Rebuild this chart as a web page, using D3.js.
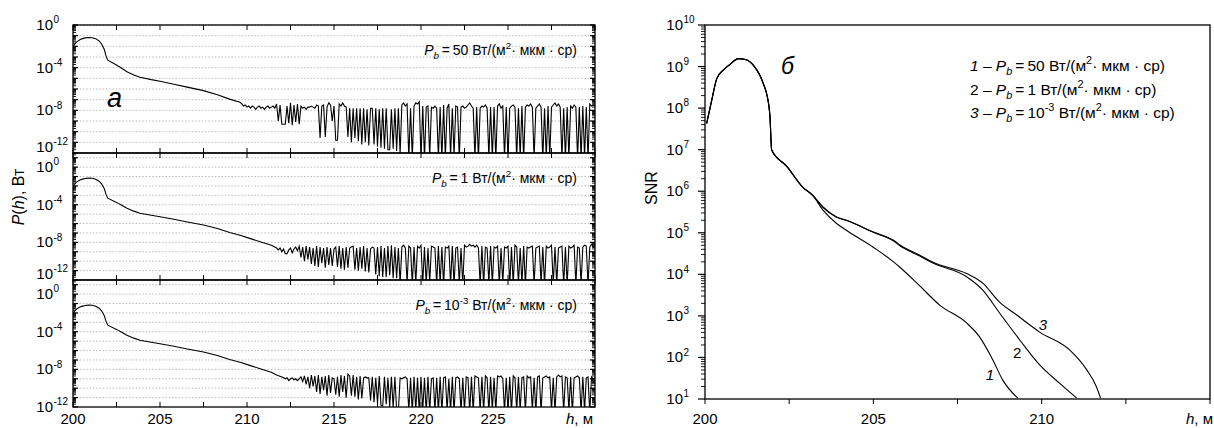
<!DOCTYPE html>
<html><head><meta charset="utf-8">
<script src="https://cdn.jsdelivr.net/npm/d3@7"></script>
<style>body{margin:0;background:#fff} text{font-family:"Liberation Sans",Arial,Helvetica,sans-serif;fill:#000}</style>
</head><body><svg id="c" width="1214" height="428"></svg>
<script>
// ---------------- DATA ----------------
// Left panel (a): log10 P(h), W. Common smooth signal part (h, log10 P)
const signalH =    [200.0,200.1,200.2,200.35,200.5,200.7,200.9,201.1,201.3,201.5,201.65,201.8,201.9,202.0,202.5,202.8,203.1,203.5,203.85,204.5,205.0,205.8,206.5,207.5,208.3,209.0,209.6,210.2,210.8,211.4,211.7,212.0];
const signalLogP = [-2.0,-1.8,-1.6,-1.42,-1.3,-1.21,-1.17,-1.19,-1.28,-1.5,-1.8,-2.3,-2.9,-3.3,-3.75,-4.05,-4.38,-4.68,-4.9,-5.12,-5.27,-5.55,-5.8,-6.15,-6.53,-6.95,-7.25,-7.6,-7.95,-8.3,-8.6,-8.8];
// noisy tails, sampled every 0.1 m from the start height
const noiseStep = 0.1;
const topNoiseStart = 209.7;
const topNoiseLogP = [
-7.4,-7.6,-7.5,-7.7,-7.6,-7.8,-7.6,-7.7,-7.9,-7.7,
-7.6,-7.8,-7.7,-7.9,-7.7,-7.6,-7.8,-7.7,-7.6,-7.8,
-7.4,-9.0,-7.5,-9.3,-9.3,-9.3,-7.6,-9.2,-7.3,-9.4,
-7.5,-9.1,-7.4,-9.3,-7.6,-7.8,-7.7,-7.9,-7.7,-7.7,
-7.6,-7.7,-7.8,-7.5,-7.6,-10.6,-7.6,-7.5,-10.5,-7.7,
-7.3,-7.5,-9.0,-7.6,-10.8,-10.8,-7.4,-7.6,-7.3,-7.6,
-7.7,-10.5,-7.8,-11.0,-7.8,-10.6,-7.8,-10.9,-7.8,-11.2,
-7.8,-11.0,-7.9,-11.3,-7.8,-7.8,-11.2,-7.8,-11.4,-7.9,
-11.5,-7.8,-11.6,-7.8,-11.7,-11.7,-7.9,-11.6,-7.8,-11.8,
-7.8,-12.1,-7.5,-7.3,-7.6,-7.4,-12.5,-7.8,-12.5,-7.6,
-7.3,-7.4,-7.2,-12.5,-7.6,-12.6,-7.7,-7.6,-12.4,-7.7,
-7.8,-7.6,-7.8,-12.5,-7.7,-12.6,-7.5,-12.5,-7.8,-7.4,
-12.4,-7.8,-12.3,-7.6,-7.7,-12.6,-7.7,-7.6,-7.8,-7.7,
-7.5,-7.3,-7.6,-7.8,-12.5,-7.7,-12.6,-7.8,-7.6,-7.7,
-7.5,-7.8,-12.4,-7.7,-12.5,-7.7,-12.6,-7.6,-7.4,-7.8,
-7.6,-12.5,-7.7,-12.6,-7.8,-7.6,-7.5,-7.7,-12.5,-7.8,
-12.4,-7.6,-12.6,-7.7,-7.5,-7.6,-7.4,-7.7,-12.5,-7.8,
-7.6,-7.4,-7.7,-12.6,-7.8,-12.5,-7.6,-12.4,-7.7,-7.5,
-7.3,-7.6,-7.4,-7.7,-12.5,-7.8,-12.6,-7.7,-12.5,-7.6,
-7.8,-7.5,-7.7,-12.6,-7.7,-12.5,-7.6,-12.4,-7.7,-12.6,
-7.4,-7.6,-7.5,-7.6];
const midNoiseStart = 211.8;
const midNoiseLogP = [
-8.8,-8.6,-9.0,-8.7,-9.2,-9.2,-8.8,-8.6,-9.1,-8.7,
-8.5,-8.9,-8.4,-9.6,-8.5,-10.0,-8.4,-9.8,-8.5,-10.3,
-8.6,-10.5,-8.4,-10.6,-8.5,-10.2,-8.6,-10.7,-8.5,-10.4,
-8.6,-10.5,-8.7,-8.5,-10.6,-8.4,-10.8,-8.6,-10.9,-8.5,
-10.7,-8.6,-8.5,-8.4,-10.9,-8.6,-11.0,-8.5,-10.8,-8.4,
-11.1,-8.6,-11.2,-8.7,-8.5,-8.6,-11.4,-8.5,-11.6,-8.4,
-11.7,-8.6,-11.7,-8.4,-11.5,-8.3,-11.8,-8.5,-11.8,-8.6,
-12.4,-8.5,-8.3,-8.6,-12.3,-8.4,-8.6,-12.5,-8.5,-12.4,
-8.4,-8.6,-8.3,-12.4,-8.5,-12.5,-8.6,-12.3,-8.4,-8.5,
-8.6,-12.5,-8.4,-12.4,-8.5,-12.6,-8.5,-8.6,-8.4,-12.5,
-8.4,-12.6,-8.6,-8.5,-12.4,-8.6,-12.5,-8.3,-8.5,-8.4,
-8.2,-8.4,-8.3,-8.5,-8.3,-8.6,-12.5,-8.4,-12.6,-8.5,
-8.6,-12.4,-8.4,-12.5,-8.5,-8.6,-8.4,-12.5,-8.6,-12.4,
-8.5,-8.6,-8.4,-12.6,-8.5,-12.5,-8.3,-8.5,-12.4,-8.6,
-12.5,-8.4,-12.6,-8.5,-8.6,-8.5,-8.4,-12.5,-8.6,-8.5,
-8.4,-12.4,-8.5,-12.6,-8.4,-8.6,-8.5,-8.3,-12.5,-8.5,
-12.4,-8.6,-8.5,-8.4,-12.6,-8.5,-12.5,-8.4,-8.6,-8.5,
-8.3,-12.5,-8.5,-8.6,-12.4,-8.5,-8.3,-8.4,-12.6,-8.5,
-8.2,-8.5,-8.4];
const botNoiseStart = 212.1;
const botNoiseLogP = [
-8.9,-9.0,-8.9,-9.2,-9.0,-8.9,-9.1,-9.0,-9.2,-9.0,
-8.8,-9.3,-8.7,-9.6,-8.8,-10.0,-8.6,-9.8,-8.7,-10.4,
-8.6,-10.6,-8.8,-10.2,-8.7,-10.8,-8.6,-10.5,-8.9,-9.0,
-10.7,-8.8,-10.9,-8.6,-10.4,-8.7,-11.0,-8.5,-8.7,-10.8,
-8.6,-10.9,-8.8,-11.2,-8.7,-11.1,-8.9,-8.8,-8.9,-8.9,
-11.3,-8.8,-11.5,-8.9,-11.6,-8.7,-11.8,-11.9,-8.8,-11.7,
-8.9,-12.0,-8.8,-12.1,-8.8,-12.4,-12.4,-8.9,-9.0,-8.9,
-8.8,-9.0,-12.4,-8.9,-12.5,-8.8,-12.4,-8.9,-12.5,-8.8,
-12.4,-8.9,-12.6,-8.8,-12.5,-9.0,-8.9,-12.4,-8.9,-12.5,
-8.8,-12.6,-8.9,-8.8,-12.4,-9.0,-12.5,-8.8,-12.6,-8.9,
-8.8,-9.0,-12.5,-8.9,-12.4,-8.8,-8.9,-12.6,-8.8,-12.5,
-8.7,-8.8,-8.9,-12.4,-8.8,-12.5,-8.7,-8.9,-12.6,-8.8,
-12.4,-8.9,-12.5,-8.7,-8.8,-8.7,-9.0,-12.5,-8.9,-12.4,
-8.8,-12.6,-8.7,-8.9,-12.5,-8.8,-12.4,-8.9,-8.8,-12.5,
-8.7,-8.9,-8.8,-12.4,-8.9,-12.6,-8.8,-8.7,-12.5,-8.9,
-8.8,-8.7,-8.9,-8.8,-12.4,-8.9,-12.5,-8.8,-8.6,-8.8,
-8.7,-12.5,-8.8,-8.9,-12.4,-8.8,-12.6,-8.9,-8.8,-8.7,
-8.9,-12.5,-8.8,-12.4,-8.9,-8.8,-12.6,-8.8,-9.0,-8.9];
const panelPb = ["50", "1", "10^-3"];          // background radiance values
const leftXTicks = [200, 205, 210, 215, 220, 225];
const leftYLabelExp = [0, -4, -8, -12];

// Right panel (б): log10 SNR
const snr1H =   [200.05,200.2,200.35,200.55,200.74,200.99,201.2,201.44,201.63,201.75,201.83,201.93,201.98,202.43,202.9,203.2,203.5,203.9,204.2,205.0,205.6,205.79,206.38,206.97,207.77,208.16,208.55,208.84,209.29];
const snr1Log = [7.63,8.19,8.71,8.92,9.05,9.19,9.17,9.03,8.79,8.55,8.35,7.79,6.99,6.6,6.1,5.9,5.55,5.23,5.06,4.65,4.3,4.17,3.72,3.26,2.83,2.49,1.94,1.46,1.02];
const snr2H =   [200.05,200.2,200.35,200.55,200.74,200.99,201.2,201.44,201.63,201.75,201.83,201.93,201.98,202.43,202.9,203.2,203.5,203.9,204.2,205.0,205.6,205.8,206.38,206.77,207.77,208.25,208.75,209.35,209.94,210.53,211.04];
const snr2Log = [7.63,8.19,8.71,8.92,9.05,9.19,9.17,9.03,8.79,8.55,8.35,7.79,6.99,6.6,6.1,5.9,5.62,5.38,5.3,5.01,4.8,4.68,4.44,4.27,3.94,3.62,3.07,2.42,1.82,1.38,1.02];
const snr3H =   [200.05,200.2,200.35,200.55,200.74,200.99,201.2,201.44,201.63,201.75,201.83,201.93,201.98,202.43,202.9,203.2,203.5,203.9,204.2,205.0,205.6,205.8,206.38,206.77,207.77,208.25,208.75,209.26,209.94,210.83,211.34,211.63,211.75];
const snr3Log = [7.63,8.19,8.71,8.92,9.05,9.19,9.17,9.03,8.79,8.55,8.35,7.79,6.99,6.6,6.1,5.9,5.62,5.38,5.3,5.02,4.82,4.7,4.46,4.29,4.02,3.79,3.33,3.02,2.61,2.18,1.70,1.29,1.02];
const curveLabels = ["1", "2", "3"];
const curveLabelH = [208.46, 209.27, 210.04];
const curveLabelLog = [1.46, 1.99, 2.66];
const rightXTicks = [200, 205, 210];
const rightYLabelExp = [1,2,3,4,5,6,7,8,9,10];

// ---------------- DRAWING ----------------
const svg = d3.select("#c");
const TICKFS = 15, SUPFS = 10;

function rich(textSel, parts, fs) {
  let cur = 0;
  parts.forEach(p => {
    let shift = 0, size = fs;
    if (p.sup) { shift = -fs * 0.42; size = fs * 0.7; }
    if (p.sub) { shift = fs * 0.28; size = fs * 0.7; }
    const ts = textSel.append("tspan").text(p.t).attr("font-size", size).attr("dy", shift - cur);
    if (p.i) ts.attr("font-style", "italic");
    cur = shift;
  });
}
function pbParts(v) {
  const parts = [{t:"P", i:true}, {t:"b", i:true, sub:true}, {t:"\u2009=\u2009"}];
  if (v.indexOf("^") >= 0) {
    const [b, e] = v.split("^");
    parts.push({t:b}); parts.push({t:e, sup:true}); parts.push({t:" Вт/(м"});
  } else parts.push({t: v + " Вт/(м"});
  parts.push({t:"2", sup:true}); parts.push({t:"·\u00a0мкм\u00a0·\u00a0ср)"});
  return parts;
}
function powLabel(g, x, y, exp, fs, sfs) {
  g.append("text").attr("x", x).attr("y", y).attr("text-anchor", "end").attr("font-size", fs).text("10");
  g.append("text").attr("x", x + 0.5).attr("y", y - fs * 0.45).attr("font-size", sfs).text(String(exp));
}
function minorTicks(lo, hi) {
  const out = [];
  for (let d = Math.floor(lo); d < Math.ceil(hi); d++)
    for (let k = 2; k <= 9; k++) { const v = Math.log10(k) + d; if (v > lo && v < hi) out.push(Math.pow(10, v)); }
  return out;
}
function decades(lo, hi) { const out = []; for (let d = Math.ceil(lo); d <= Math.floor(hi); d++) out.push(Math.pow(10, d)); return out; }

// ---- left panel ----
const xL = d3.scaleLinear().domain([200, 230]).range([73, 595]);
const panels = [
  {top: 25, bottom: 153, lo: -12, hi: 0, start: topNoiseStart, noise: topNoiseLogP, pb: panelPb[0]},
  {top: 153, bottom: 280, lo: -12, hi: 1.5, start: midNoiseStart, noise: midNoiseLogP, pb: panelPb[1]},
  {top: 280, bottom: 407, lo: -12, hi: 1.5, start: botNoiseStart, noise: botNoiseLogP, pb: panelPb[2]}
];
const left = svg.append("g");
panels.forEach((p, pi) => {
  const y = d3.scaleLog().domain([Math.pow(10, p.lo), Math.pow(10, p.hi)]).range([p.bottom, p.top]);
  const g = left.append("g");
  g.selectAll("line.grid").data(decades(p.lo + 1, p.hi)).join("line")
    .attr("x1", xL(200)).attr("x2", xL(230)).attr("y1", d => y(d)).attr("y2", d => y(d))
    .attr("stroke", "#a8a8a8").attr("stroke-width", 0.8).attr("stroke-dasharray", "1.5,1.8");
  const pts = [];
  signalH.forEach((h, i) => { if (h < p.start - 1e-6) pts.push([h, signalLogP[i]]); });
  p.noise.forEach((v, i) => pts.push([Math.round((p.start + i * noiseStep) * 10) / 10, v]));
  const cid = "clipL" + pi;
  svg.append("clipPath").attr("id", cid).append("rect")
    .attr("x", xL(200)).attr("y", p.top).attr("width", xL(230) - xL(200)).attr("height", p.bottom - p.top);
  g.append("path").datum(pts).attr("clip-path", `url(#${cid})`)
    .attr("fill", "none").attr("stroke", "#000").attr("stroke-width", 1.1).attr("stroke-linejoin", "miter")
    .attr("d", d3.line().x(d => xL(d[0])).y(d => y(Math.pow(10, d[1]))));
  const maj = decades(p.lo, p.hi), mnr = minorTicks(p.lo, p.hi);
  const tk = g.append("g").attr("stroke", "#000");
  [[xL(200), 1], [xL(230), -1]].forEach(([x0, dir]) => {
    maj.forEach(v => tk.append("line").attr("x1", x0).attr("x2", x0 + dir * 5).attr("y1", y(v)).attr("y2", y(v)).attr("stroke-width", 1.2));
    mnr.forEach(v => tk.append("line").attr("x1", x0).attr("x2", x0 + dir * 3).attr("y1", y(v)).attr("y2", y(v)).attr("stroke-width", 0.9));
  });
  d3.range(200, 230.01, 2.5).forEach(h => {
    tk.append("line").attr("x1", xL(h)).attr("x2", xL(h)).attr("y1", p.top).attr("y2", p.top + 5).attr("stroke-width", 1);
    tk.append("line").attr("x1", xL(h)).attr("x2", xL(h)).attr("y1", p.bottom).attr("y2", p.bottom - 5).attr("stroke-width", 1);
  });
  g.append("rect").attr("x", xL(200)).attr("y", p.top).attr("width", xL(230) - xL(200)).attr("height", p.bottom - p.top)
    .attr("fill", "none").attr("stroke", "#000").attr("stroke-width", 1.3);
  leftYLabelExp.forEach(e => {
    const off = (e === -12 && pi < 2) ? -1 : 5;
    powLabel(g, 53, y(Math.pow(10, e)) + off, e, TICKFS, SUPFS);
  });
  const t = g.append("text").attr("x", 577).attr("y", p.top + 30).attr("text-anchor", "end").attr("font-size", 14);
  rich(t, pbParts(p.pb), 14);
});
leftXTicks.forEach(h => {
  svg.append("text").attr("x", xL(h) + (h === 225 ? -15 : 0)).attr("y", 424).attr("text-anchor", "middle").attr("font-size", TICKFS).text(h);
});
{ const t = svg.append("text").attr("x", 593).attr("y", 424).attr("text-anchor", "end").attr("font-size", TICKFS);
  rich(t, [{t:"h", i:true}, {t:", м"}], TICKFS); }
{ const t = svg.append("text").attr("transform", "translate(24,197) rotate(-90)").attr("text-anchor", "middle").attr("font-size", 16);
  rich(t, [{t:"P", i:true}, {t:"("}, {t:"h", i:true}, {t:"), Вт"}], 16); }
svg.append("text").attr("x", 107).attr("y", 107).attr("font-size", 27).attr("font-style", "italic").text("a");

// ---- right panel ----
const xR = d3.scaleLinear().domain([200, 215]).range([705, 1210]);
const yR = d3.scaleLog().domain([10, 1e10]).range([399, 25]);
const right = svg.append("g");
const series = [[snr1H, snr1Log], [snr2H, snr2Log], [snr3H, snr3Log]];
svg.append("clipPath").attr("id", "clipR").append("rect").attr("x", 705).attr("y", 25).attr("width", 505).attr("height", 374);
series.forEach(([H, L]) => {
  right.append("path").datum(H.map((h, i) => [h, L[i]])).attr("clip-path", "url(#clipR)")
    .attr("fill", "none").attr("stroke", "#000").attr("stroke-width", 1.1)
    .attr("d", d3.line().curve(d3.curveMonotoneX).x(d => xR(d[0])).y(d => yR(Math.pow(10, d[1]))));
});
right.append("rect").attr("x", 705).attr("y", 25).attr("width", 505).attr("height", 374)
  .attr("fill", "none").attr("stroke", "#000").attr("stroke-width", 1.3);
const tkR = right.append("g").attr("stroke", "#000");
decades(1, 10).forEach(v => tkR.append("line").attr("x1", 705).attr("x2", 698).attr("y1", yR(v)).attr("y2", yR(v)).attr("stroke-width", 1.2));
minorTicks(1, 10).forEach(v => tkR.append("line").attr("x1", 705).attr("x2", 701).attr("y1", yR(v)).attr("y2", yR(v)).attr("stroke-width", 0.9));
d3.range(200, 215.01, 2.5).forEach(h => tkR.append("line").attr("x1", xR(h)).attr("x2", xR(h)).attr("y1", 399).attr("y2", 404).attr("stroke-width", 1));
rightYLabelExp.forEach(e => powLabel(right, 683, yR(Math.pow(10, e)) + 5, e, TICKFS, SUPFS));
rightXTicks.forEach(h => right.append("text").attr("x", xR(h)).attr("y", 424).attr("text-anchor", "middle").attr("font-size", TICKFS).text(h));
{ const t = right.append("text").attr("x", 1213).attr("y", 424).attr("text-anchor", "end").attr("font-size", TICKFS);
  rich(t, [{t:"h", i:true}, {t:", м"}], TICKFS); }
right.append("text").attr("transform", "translate(657,188) rotate(-90)").attr("text-anchor", "middle").attr("font-size", 16).text("SNR");
right.append("text").attr("x", 781).attr("y", 74).attr("font-size", 23).attr("font-style", "italic").text("б");
curveLabels.forEach((c, i) => right.append("text").attr("x", xR(curveLabelH[i])).attr("y", yR(Math.pow(10, curveLabelLog[i])))
  .attr("text-anchor", "middle").attr("font-size", 15).attr("font-style", i === 1 ? "normal" : "italic").text(c));
panelPb.forEach((v, i) => {
  const t = right.append("text").attr("x", 970).attr("y", 71 + i * 23.5).attr("font-size", 15.5);
  rich(t, [{t: curveLabels[i], i: i !== 1}, {t: " \u2013 "}].concat(pbParts(v)), 15.5);
});
</script></body></html>
